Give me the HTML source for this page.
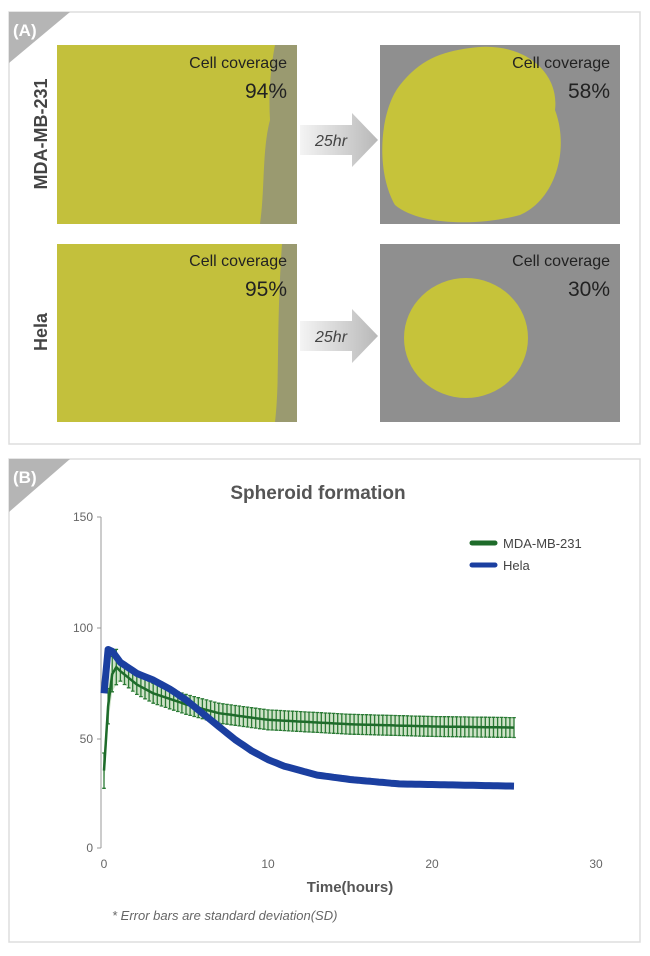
<!DOCTYPE html>
<html><head><meta charset="utf-8"><style>
body{margin:0;width:650px;height:951px;background:#fff;font-family:"Liberation Sans",sans-serif;overflow:hidden}
</style></head><body>
<svg width="650" height="951" xmlns="http://www.w3.org/2000/svg" font-family="Liberation Sans, sans-serif">
<defs>
<linearGradient id="arr" x1="0" x2="1"><stop offset="0" stop-color="#f4f4f4"/><stop offset="1" stop-color="#b8b8b8"/></linearGradient>
</defs>
<rect x="9" y="12" width="631" height="432" fill="#fff" stroke="#ddd" stroke-width="1.5"/>
<polygon points="9,12 70,12 9,63" fill="#b5b5b5"/>
<text x="13" y="36" font-size="17" font-weight="bold" fill="#fff">(A)</text>
<rect x="9" y="459" width="631" height="483" fill="#fff" stroke="#ddd" stroke-width="1.5"/>
<polygon points="9,459 70,459 9,512" fill="#b5b5b5"/>
<text x="13" y="483" font-size="17" font-weight="bold" fill="#fff">(B)</text>

<rect x="57" y="45" width="240" height="179" fill="#c3c03c"/>
<path d="M275,45 L297,45 L297,224 L260,224 C265,190 262,150 270,120 C268,90 272,60 275,45Z" fill="#9a9a70"/>
<rect x="380" y="45" width="240" height="179" fill="#8f8f8f"/>
<path d="M470,48 C520,40 560,70 555,110 C570,150 555,200 520,215 C480,226 420,226 395,205 C375,170 380,110 400,85 C420,60 440,52 470,48Z" fill="#c6c33a"/>
<rect x="57" y="244" width="240" height="178" fill="#c3c03c"/>
<path d="M282,244 L297,244 L297,422 L275,422 C280,380 276,330 282,244Z" fill="#9a9a70"/>
<rect x="380" y="244" width="240" height="178" fill="#8f8f8f"/>
<ellipse cx="466" cy="338" rx="62" ry="60" fill="#c6c33a"/>
<g font-size="16" fill="#222">
<text x="287" y="68" text-anchor="end">Cell coverage</text>
<text x="287" y="98" text-anchor="end" font-size="21">94%</text>
<text x="610" y="68" text-anchor="end">Cell coverage</text>
<text x="610" y="98" text-anchor="end" font-size="21">58%</text>
<text x="287" y="266" text-anchor="end">Cell coverage</text>
<text x="287" y="296" text-anchor="end" font-size="21">95%</text>
<text x="610" y="266" text-anchor="end">Cell coverage</text>
<text x="610" y="296" text-anchor="end" font-size="21">30%</text>
</g>
<g fill="url(#arr)">
<polygon points="300,125 352,125 352,113 378,140 352,167 352,155 300,155"/>
<polygon points="300,321 352,321 352,309 378,336 352,363 352,351 300,351"/>
</g>
<text x="315" y="146" font-size="16" font-style="italic" fill="#444">25hr</text>
<text x="315" y="342" font-size="16" font-style="italic" fill="#444">25hr</text>
<text transform="translate(47,134) rotate(-90)" text-anchor="middle" font-size="18" font-weight="bold" fill="#444">MDA-MB-231</text>
<text transform="translate(47,332) rotate(-90)" text-anchor="middle" font-size="18" font-weight="bold" fill="#444">Hela</text>

<text x="318" y="499" text-anchor="middle" font-size="19" font-weight="bold" fill="#555">Spheroid formation</text>
<g stroke="#999" stroke-width="1" fill="none">
<line x1="101" y1="517" x2="101" y2="848"/>
<line x1="97" y1="517" x2="101" y2="517"/><line x1="97" y1="628" x2="101" y2="628"/><line x1="97" y1="739" x2="101" y2="739"/><line x1="97" y1="848" x2="101" y2="848"/>
</g>
<g font-size="12" fill="#666" text-anchor="end">
<text x="93" y="521">150</text><text x="93" y="632">100</text><text x="93" y="743">50</text><text x="93" y="852">0</text>
</g>
<g font-size="12" fill="#666" text-anchor="middle">
<text x="104" y="868">0</text><text x="268" y="868">10</text><text x="432" y="868">20</text><text x="596" y="868">30</text>
</g>
<text x="350" y="892" text-anchor="middle" font-size="15" font-weight="bold" fill="#555">Time(hours)</text>
<text x="112" y="920" font-size="13" font-style="italic" fill="#666">* Error bars are standard deviation(SD)</text>
<g id="series"></g>
<line x1="472" y1="543" x2="495" y2="543" stroke="#1e6b2a" stroke-width="5" stroke-linecap="round"/>
<text x="503" y="548" font-size="13" fill="#444">MDA-MB-231</text>
<line x1="472" y1="565" x2="495" y2="565" stroke="#1b3fa0" stroke-width="5" stroke-linecap="round"/>
<text x="503" y="570" font-size="13" fill="#444">Hela</text>
</svg>
<script>
function X(t){return 104+t*16.4}
function Y(v){return 848-v*2.21}
function interp(pts,t){for(var i=1;i<pts.length;i++){if(t<=pts[i][0]){var a=pts[i-1],b=pts[i];return a[1]+(b[1]-a[1])*(t-a[0])/(b[0]-a[0]);}}return pts[pts.length-1][1]}
var G=[[0,35],[0.3,70],[0.6,83],[1,80],[2,74],[3,70],[5,65],[7,61],[10,58],[15,56],[20,55],[25,54.5]];
var B=[[0,70],[0.2,90],[0.5,89],[1,84],[2,79],[3,76],[4,72],[5,67],[6,61],[7,55],[8,49],[9,44],[10,40],[11,37],[13,33],[15,31],[18,29],[25,28]];
var gp="",bp="",eb="",up="",lo="";
for(var t=0;t<=25;t+=0.25){var g=interp(G,t),b=interp(B,t);
var e=t<1?8:4.5;var x=X(t).toFixed(1);
gp+=(t?"L":"M")+x+","+Y(g).toFixed(1);
bp+=(t?"L":"M")+x+","+Y(b).toFixed(1);
up+=(t?"L":"M")+x+","+Y(g+e).toFixed(1);
lo="L"+x+","+Y(g-e).toFixed(1)+lo;
eb+="M"+x+","+Y(g-e).toFixed(1)+"V"+Y(g+e).toFixed(1)+"M"+(X(t)-1.8)+","+Y(g-e).toFixed(1)+"h3.6M"+(X(t)-1.8)+","+Y(g+e).toFixed(1)+"h3.6";}
var s='<path d="'+up+lo+'Z" fill="#cfe3c8"/>'+
'<path d="'+eb+'" stroke="#2a7a34" stroke-width="1.3" fill="none"/>'+
'<path d="'+gp+'" stroke="#1e6b2a" stroke-width="2.5" fill="none"/>'+
'<path d="'+bp+'" stroke="#1b3fa0" stroke-width="7" fill="none" stroke-linejoin="round"/>';
document.getElementById("series").innerHTML=s;
</script>
</body></html>
